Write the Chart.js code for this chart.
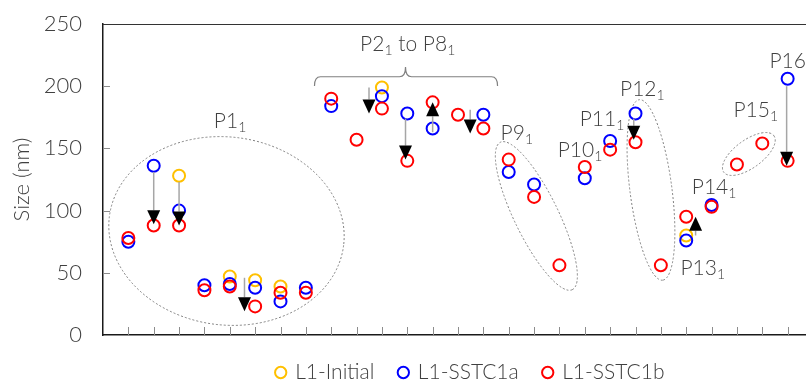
<!DOCTYPE html>
<html>
<head>
<meta charset="utf-8">
<title>Size (nm)</title>
<script src="https://cdn.jsdelivr.net/npm/chart.js@4.4.1/dist/chart.umd.min.js"></script>
<style>
html, body { margin: 0; padding: 0; overflow: hidden; background: #fff; }
#wrap { width: 813px; height: 383px; }
</style>
</head>
<body>
<div id="wrap"><canvas id="sizeChart" width="813" height="383"></canvas></div>
<script>
var categories = [1, 2, 3, 4, 5, 6, 7, 8, 9, 10, 11, 12, 13, 14, 15, 16, 17, 18, 19, 20, 21, 22, 23, 24, 25, 26, 27];
var initialSize = [null, null, 128, null, 47, 44, 39, null, null, null, 199, null, null, null, null, null, null, null, null, null, null, null, 80, null, null, null, null];
var sstc1aSize = [75, 136, 100, 40, 41, 38, 27, 38, 184, null, 192, 178, 166, null, 177, 131, 121, null, 126, 156, 178, null, 76, 104.5, null, null, 206];
var sstc1bSize = [78, 88, 88, 36, 39, 23, 34, 34, 190, 157, 182, 140, 187, 177, 166, 141, 111, 56, 135, 149, 155, 56, 95, 103, 137, 154, 140];
var yTicks = [0, 50, 100, 150, 200, 250];

// annotations (x in category units, y in nm)
var groupLabels = [
    {parts: ['P1', '1'], x: 4.37, y: 166.2},
    {parts: ['P2', '1', ' to P8', '1'], x: 10.14, y: 228.5},
    {parts: ['P9', '1'], x: 15.68, y: 156.8},
    {parts: ['P10', '1'], x: 17.93, y: 142.8},
    {parts: ['P11', '1'], x: 18.80, y: 168.0},
    {parts: ['P12', '1'], x: 20.39, y: 192.4},
    {parts: ['P13', '1'], x: 22.77, y: 48.2},
    {parts: ['P14', '1'], x: 23.22, y: 113.6},
    {parts: ['P15', '1'], x: 24.86, y: 175.5},
    {parts: ['P16', '1'], x: 26.28, y: 214.4}
];
var arrows = [
    {x: 2, from: 131, to: 89},
    {x: 3, from: 123, to: 88},
    {x: 5.58, from: 46, to: 19},
    {x: 10.49, from: 199, to: 178},
    {x: 11.93, from: 174, to: 141},
    {x: 13, from: 163, to: 187},
    {x: 14.48, from: 181, to: 162},
    {x: 20.93, from: 174, to: 157},
    {x: 23.37, from: 80, to: 95},
    {x: 26.96, from: 200, to: 136}
];
var ellipses = [
    {x: 4.87, y: 83.6, rx: 118, ry: 94, angle: 7},
    {x: 17.09, y: 95.7, rx: 82, ry: 22, angle: 64},
    {x: 21.61, y: 116.6, rx: 91, ry: 21, angle: 82.6},
    {x: 25.47, y: 145.5, rx: 31, ry: 14, angle: -36}
];
var brace = {from: 8.34, to: 15.56, mid: 11.93, end: 200.2, bar: 207.6, peak: 215.4};

var textColor = '#404040';
var fontFamily = 'Lato, "Open Sans", sans-serif';

function buildPoints(values)
{
    return categories.map(function(c, i) {
        return {x: c, y: values[i]};
    });
}

function drawLabel(ctx, parts, x, y)
{
    ctx.fillStyle = textColor;
    ctx.textBaseline = 'alphabetic';
    ctx.textAlign = 'left';
    parts.forEach(function(t, i) {
        var sub = i % 2 === 1;
        ctx.font = sub ? '300 14px ' + fontFamily : '300 21px ' + fontFamily;
        ctx.fillText(t, x, sub ? y + 4 : y);
        x += ctx.measureText(t).width;
    });
}

var sizeAnnotations = {
    id: 'sizeAnnotations',
    afterUpdate: function(chart) {
        // move the legend under the points; only the top moves so the clip box keeps the bottom edge
        var lg = chart.legend;
        lg.left += 251.7; lg.right += 251.7;
        lg.top -= 6;
    },
    beforeDatasetsDraw: function(chart) {
        var ctx = chart.ctx, xs = chart.scales.x, ys = chart.scales.y, a = chart.chartArea;
        ctx.save();
        // top border
        ctx.strokeStyle = '#333';
        ctx.lineWidth = 1;
        ctx.beginPath();
        ctx.moveTo(a.left, a.top + 0.5);
        ctx.lineTo(a.right, a.top + 0.5);
        ctx.stroke();
        // inside ticks
        ctx.strokeStyle = '#8c8c8c';
        ctx.beginPath();
        categories.forEach(function(c) {
            var x = Math.round(xs.getPixelForValue(c)) + 0.5;
            ctx.moveTo(x, a.bottom);
            ctx.lineTo(x, a.bottom - 8);
        });
        yTicks.slice(1, -1).forEach(function(v) {
            var y = Math.round(ys.getPixelForValue(v)) + 0.5;
            ctx.moveTo(a.left, y);
            ctx.lineTo(a.left + 7, y);
        });
        ctx.stroke();
        // group ellipses
        ctx.strokeStyle = '#7f7f7f';
        ctx.setLineDash([2, 2]);
        ellipses.forEach(function(e) {
            ctx.beginPath();
            ctx.ellipse(xs.getPixelForValue(e.x), ys.getPixelForValue(e.y), e.rx, e.ry, e.angle * Math.PI / 180, 0, 2 * Math.PI);
            ctx.stroke();
        });
        ctx.setLineDash([]);
        // brace over P2-P8
        var xl = xs.getPixelForValue(brace.from), xr = xs.getPixelForValue(brace.to), xm = xs.getPixelForValue(brace.mid);
        var ye = ys.getPixelForValue(brace.end), yb = ys.getPixelForValue(brace.bar), yp = ys.getPixelForValue(brace.peak);
        ctx.strokeStyle = '#808080';
        ctx.lineWidth = 1.2;
        ctx.beginPath();
        ctx.moveTo(xl, ye);
        ctx.quadraticCurveTo(xl, yb, xl + 6, yb);
        ctx.lineTo(xm - 6, yb);
        ctx.quadraticCurveTo(xm, yb, xm, yp);
        ctx.quadraticCurveTo(xm, yb, xm + 6, yb);
        ctx.lineTo(xr - 6, yb);
        ctx.quadraticCurveTo(xr, yb, xr, ye);
        ctx.stroke();
        ctx.restore();
    },
    afterDatasetsDraw: function(chart) {
        var ctx = chart.ctx, xs = chart.scales.x, ys = chart.scales.y;
        ctx.save();
        arrows.forEach(function(ar) {
            var x = xs.getPixelForValue(ar.x), y1 = ys.getPixelForValue(ar.from), y2 = ys.getPixelForValue(ar.to);
            var dir = y2 > y1 ? 1 : -1;
            var base = y2 - dir * 14;
            ctx.strokeStyle = '#a6a6a6';
            ctx.lineWidth = 1.5;
            ctx.beginPath();
            ctx.moveTo(x, y1);
            ctx.lineTo(x, base);
            ctx.stroke();
            ctx.fillStyle = '#000';
            ctx.beginPath();
            ctx.moveTo(x - 6.5, base);
            ctx.lineTo(x + 6.5, base);
            ctx.lineTo(x, y2);
            ctx.closePath();
            ctx.fill();
        });
        groupLabels.forEach(function(l) {
            drawLabel(ctx, l.parts, xs.getPixelForValue(l.x), ys.getPixelForValue(l.y));
        });
        ctx.restore();
    }
};

function makeDataset(label, values, color, order)
{
    return {
        label: label,
        data: buildPoints(values),
        borderColor: color,
        backgroundColor: 'rgba(0,0,0,0)',
        pointStyle: 'circle',
        pointRadius: 6,
        pointBorderWidth: 2,
        order: order
    };
}

var ctx = document.getElementById('sizeChart');
const sizeChart = new Chart(ctx, {
    type: 'scatter',
    data: {
        datasets: [
            makeDataset('L1-Initial', initialSize, '#FFC000', 2),
            makeDataset('L1-SSTC1a', sstc1aSize, '#0000FF', 1),
            makeDataset('L1-SSTC1b', sstc1bSize, '#FF0000', 0)
        ]
    },
    options: {
        responsive: false,
        animation: false,
        layout: {autoPadding: false, padding: {top: 24, left: 0, right: 0, bottom: 0}},
        plugins: {
            tooltip: {enabled: false},
            legend: {
                position: 'bottom',
                align: 'start',
                maxHeight: 40,
                labels: {
                    usePointStyle: true,
                    boxWidth: 8,
                    boxHeight: 8,
                    padding: 25,
                    color: textColor,
                    font: {family: fontFamily, size: 21, weight: '300'},
                    sort: function(a, b) { return a.datasetIndex - b.datasetIndex; }
                }
            }
        },
        scales: {
            x: {
                type: 'linear',
                min: 0,
                max: 28,
                grid: {display: false},
                ticks: {display: false},
                border: {display: true, color: '#1a1a1a', width: 1.5},
                afterFit: function(s) { s.height = 8; }
            },
            y: {
                min: 0,
                max: 250,
                grid: {display: true, drawOnChartArea: false, drawTicks: true, tickLength: 21, tickColor: 'rgba(0,0,0,0)'},
                border: {display: true, color: '#1a1a1a', width: 1.5},
                afterBuildTicks: function(s) {
                    s.ticks = yTicks.map(function(v) { return {value: v}; });
                },
                ticks: {
                    padding: 0,
                    color: textColor,
                    font: {family: fontFamily, size: 22, weight: '300'}
                },
                title: {
                    display: true,
                    text: 'Size (nm)',
                    color: textColor,
                    padding: {top: 9, bottom: 0},
                    font: {family: fontFamily, size: 22, weight: '300'}
                },
                afterFit: function(s) { s.width = 103; }
            }
        }
    },
    plugins: [sizeAnnotations]
});
</script>
</body>
</html>
